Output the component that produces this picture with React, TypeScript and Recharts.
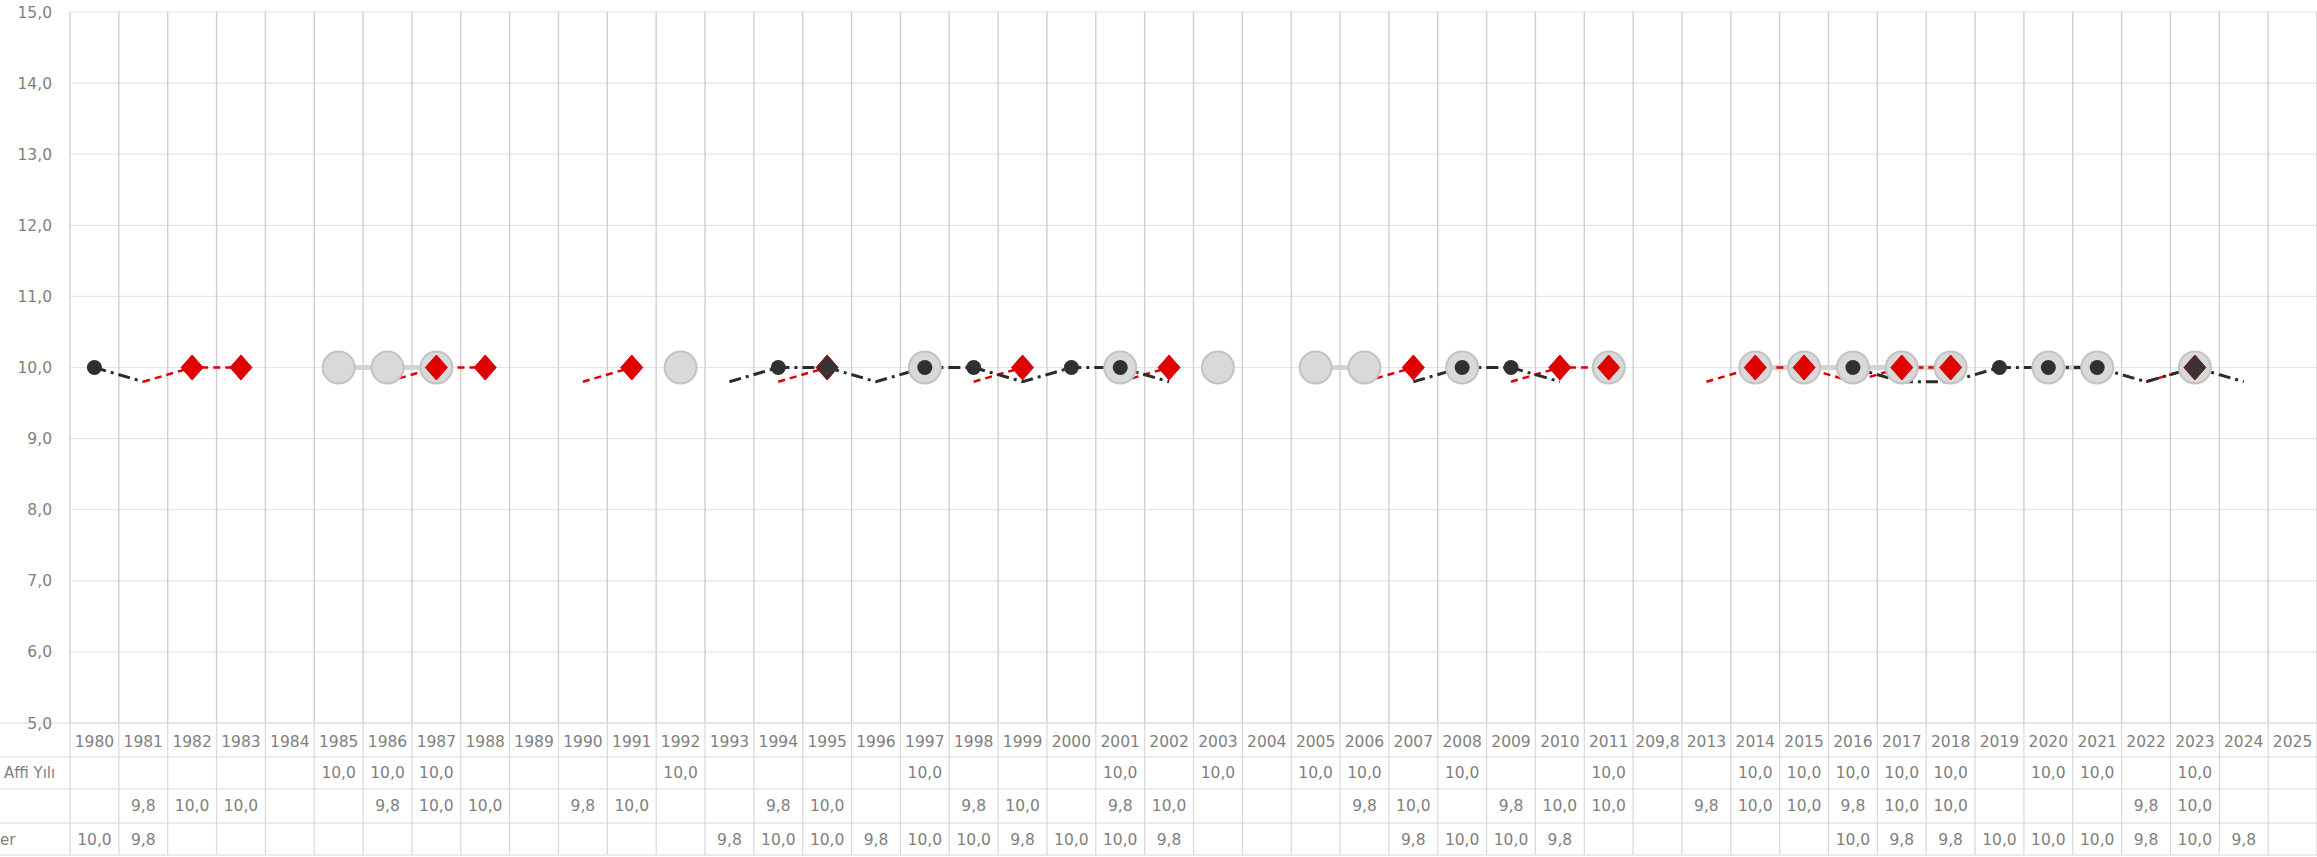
import {
  ComposedChart,
  Line,
  XAxis,
  YAxis,
  CartesianGrid,
} from "recharts";

const years = [
  "1980", "1981", "1982", "1983", "1984", "1985", "1986", "1987", "1988", "1989",
  "1990", "1991", "1992", "1993", "1994", "1995", "1996", "1997", "1998", "1999",
  "2000", "2001", "2002", "2003", "2004", "2005", "2006", "2007", "2008", "2009",
  "2010", "2011", "209,8", "2013", "2014", "2015", "2016", "2017", "2018", "2019",
  "2020", "2021", "2022", "2023", "2024", "2025",
];

// Affi Yılı (grey circles)
const affiYili = [
  null, null, null, null, null, 10, 10, 10, null, null,
  null, null, 10, null, null, null, null, 10, null, null,
  null, 10, null, 10, null, 10, 10, null, 10, null,
  null, 10, null, null, 10, 10, 10, 10, 10, null,
  10, 10, null, 10, null, null,
];

// second row (red diamonds)
const seri2 = [
  null, 9.8, 10, 10, null, null, 9.8, 10, 10, null,
  9.8, 10, null, null, 9.8, 10, null, null, 9.8, 10,
  null, 9.8, 10, null, null, null, 9.8, 10, null, 9.8,
  10, 10, null, 9.8, 10, 10, 9.8, 10, 10, null,
  null, null, 9.8, 10, null, null,
];

// third row "...er" (dark dots)
const seri3 = [
  10, 9.8, null, null, null, null, null, null, null, null,
  null, null, null, 9.8, 10, 10, 9.8, 10, 10, 9.8,
  10, 10, 9.8, null, null, null, null, 9.8, 10, 10,
  9.8, null, null, null, null, null, 10, 9.8, 9.8, 10,
  10, 10, 9.8, 10, 9.8, null,
];

const rowLabels = ["Affi Yılı", "", "er"];
const yTicks = [5, 6, 7, 8, 9, 10, 11, 12, 13, 14, 15];

const data = years.map((year, i) => ({
  year,
  affi: affiYili[i],
  s2: seri2[i],
  s3: seri3[i],
}));

const W = 2317;
const H = 857;
const FONT = "DejaVu Sans";
const TXT = "#7f7f7f";
const TABLE_LINE = "#d9d9d9";

const fmt = (v: number) => v.toFixed(1).replace(".", ",");

function TableTick(props: any) {
  const { x, y, payload } = props;
  const index = props.index ?? payload.index;
  const half = payload.offset || 24.4;
  const rows = [affiYili, seri2, seri3];
  const lineYs = [0, 34, 66, 100, 132];
  const textYs = [19, 50, 83, 117];
  return (
    <g>
      <line x1={x + half} x2={x + half} y1={y} y2={y + 132} stroke={TABLE_LINE} strokeWidth={1.2} />
      {index === 0 && (
        <g>
          <line x1={x - half} x2={x - half} y1={y} y2={y + 132} stroke={TABLE_LINE} strokeWidth={1.2} />
          {lineYs.map((ly) => (
            <line key={ly} x1={0} x2={W} y1={y + ly} y2={y + ly} stroke={TABLE_LINE} strokeWidth={1.2} />
          ))}
          {rowLabels.map((l, r) => (
            <text
              key={r}
              x={r === 2 ? 0 : 4}
              y={y + textYs[r + 1]}
              dominantBaseline="central"
              fontFamily={FONT}
              fontSize={15}
              fill={TXT}
            >
              {l}
            </text>
          ))}
        </g>
      )}
      <text x={x} y={y + textYs[0]} textAnchor="middle" dominantBaseline="central" fontFamily={FONT} fontSize={15.5} fill={TXT}>
        {payload.value}
      </text>
      {rows.map((arr, r) =>
        arr[index] != null ? (
          <text
            key={r}
            x={x}
            y={y + textYs[r + 1]}
            textAnchor="middle"
            dominantBaseline="central"
            fontFamily={FONT}
            fontSize={15.5}
            fill={TXT}
          >
            {fmt(arr[index] as number)}
          </text>
        ) : null
      )}
    </g>
  );
}

function GreyDot(props: any) {
  const { cx, cy, value, index } = props;
  if (cx == null || cy == null || value == null) return <g key={`g${index}`} />;
  return <circle key={`g${index}`} cx={cx} cy={cy} r={16} fill="#d9d9d9" stroke="#c3c3c3" strokeWidth={2} />;
}

function RedDot(props: any) {
  const { cx, cy, value, index } = props;
  if (cx == null || cy == null || value == null || value < 10) return <g key={`r${index}`} />;
  return (
    <polygon
      key={`r${index}`}
      points={`${cx},${cy - 12.5} ${cx + 11},${cy} ${cx},${cy + 12.5} ${cx - 11},${cy}`}
      fill="#e00000"
      stroke="#d40000"
      strokeWidth={1}
    />
  );
}

function DarkDot(props: any) {
  const { cx, cy, value, index } = props;
  if (cx == null || cy == null || value == null || value < 10) return <g key={`d${index}`} />;
  if (seri2[index] != null && (seri2[index] as number) >= 10) {
    return (
      <polygon
        key={`d${index}`}
        points={`${cx},${cy - 12.5} ${cx + 11},${cy} ${cx},${cy + 12.5} ${cx - 11},${cy}`}
        fill="#3b3234"
      />
    );
  }
  return <circle key={`d${index}`} cx={cx} cy={cy} r={7.5} fill="#2e3033" />;
}

export default function App() {
  return (
    <div style={{ position: "absolute", left: 0, top: 0, width: W, height: H, background: "#fff" }}>
      <ComposedChart width={W} height={H} data={data} margin={{ top: 12, right: 0, bottom: 0, left: 0 }}>
        <CartesianGrid vertical={false} stroke="#e6e6e6" strokeWidth={1.2} />
        <CartesianGrid
          horizontal={false}
          stroke="#cfcfcf"
          strokeWidth={1.4}
          verticalCoordinatesGenerator={(p: any) => {
            const off = p.offset;
            return years.map((_, i) => off.left + (i * off.width) / years.length).concat([off.left + off.width]);
          }}
        />
        <XAxis
          dataKey="year"
          scale="band"
          height={134}
          interval={0}
          axisLine={false}
          tickLine={false}
          tickSize={0}
          tickMargin={0}
          tick={<TableTick />}
        />
        <YAxis
          width={70}
          domain={[5, 15]}
          ticks={yTicks}
          axisLine={false}
          tickLine={false}
          tickSize={0}
          tickMargin={18}
          tickFormatter={fmt}
          tick={{ fontFamily: FONT, fontSize: 15.5, fill: TXT }}
        />
        <Line
          dataKey="affi"
          stroke="#d3d3d3"
          strokeWidth={5}
          dot={GreyDot}
          activeDot={false}
          isAnimationActive={false}
        />
        <Line
          dataKey="s2"
          stroke="#e00000"
          strokeWidth={2.5}
          strokeDasharray="7 5"
          dot={RedDot}
          activeDot={false}
          isAnimationActive={false}
        />
        <Line
          dataKey="s3"
          stroke="#2b2b2b"
          strokeWidth={3}
          strokeDasharray="12 5 3 5"
          dot={DarkDot}
          activeDot={false}
          isAnimationActive={false}
        />
      </ComposedChart>
    </div>
  );
}
